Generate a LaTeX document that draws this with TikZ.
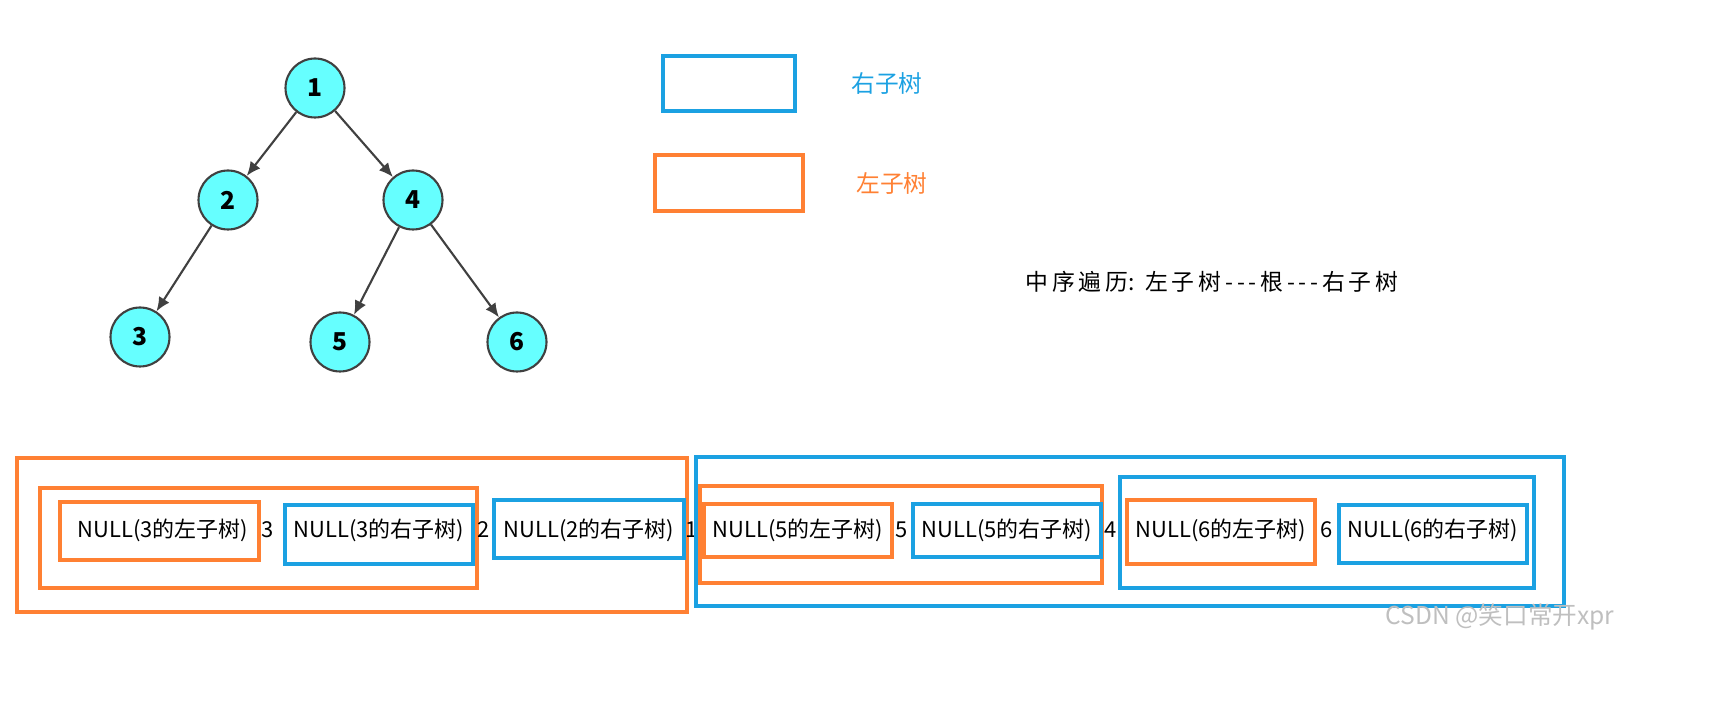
\documentclass[tikz,border=0pt]{standalone}
\usepackage{fontspec}
\setmainfont{Noto Sans CJK SC}
\usetikzlibrary{positioning,arrows.meta}
\definecolor{treefill}{HTML}{66FFFF}
\definecolor{rblue}{HTML}{1BA1E2}
\definecolor{lorange}{HTML}{FF8033}
\begin{document}
\begin{tikzpicture}[x=0.02cm,y=-0.02cm]
    \tikzstyle{tnode}=[circle, draw=black!75, line width=1.2pt, fill=treefill, minimum size=1.18cm, inner sep=0pt, font=\bfseries\fontsize{14}{16}\selectfont]
    \tikzstyle{edge}=[-{Latex[length=8pt,width=7pt]}, draw=black!75, line width=1.2pt]
    \tikzstyle{lbox}=[draw=lorange, line width=2pt]
    \tikzstyle{rbox}=[draw=rblue, line width=2pt]
    \tikzstyle{txt}=[font=\fontsize{12.5}{14}\selectfont, inner sep=0pt]
    \useasboundingbox (0,0) rectangle (1722,705);

    % tree
    \node[tnode] (1) at (315,88) {1};
    \node[tnode] (2) at (228,200) {2};
    \node[tnode] (4) at (413,200) {4};
    \node[tnode] (3) at (140,337) {3};
    \node[tnode] (5) at (340,342) {5};
    \node[tnode] (6) at (517,342) {6};
    \draw[edge] (1) -- (2);
    \draw[edge] (1) -- (4);
    \draw[edge] (2) -- (3);
    \draw[edge] (4) -- (5);
    \draw[edge] (4) -- (6);

    % legend
    \draw[rbox] (663,56) rectangle (795,111);
    \node[txt, text=rblue, font=\fontsize{13.5}{15}\selectfont] (rlab) at (887,84) {右子树};
    \draw[lbox] (655,155) rectangle (803,211);
    \node[txt, text=lorange, font=\fontsize{13.5}{15}\selectfont] (llab) at (892,183) {左子树};
    \node[txt, font=\fontsize{13}{15}\selectfont] (rule) at (1212,282) {中\,序\,遍\,历:\, 左\,子\,树\,-\,-\,-\,根\,-\,-\,-\,右\,子\,树};

    % inorder sequence
    \draw[lbox] (17,458) rectangle (687,612);
    \draw[lbox] (40,488) rectangle (477,588);
    \draw[lbox] (60,502) rectangle (259,560);
    \node[txt] (n3l) at (163,530) {NULL(3的左子树)};
    \node[txt] (v3) at (268,530) {3};
    \draw[rbox] (285,505) rectangle (473,564);
    \node[txt] (n3r) at (379,530) {NULL(3的右子树)};
    \node[txt] (v2) at (484,530) {2};
    \draw[rbox] (494,500) rectangle (684,558);
    \node[txt] (n2r) at (589,530) {NULL(2的右子树)};
    \node[txt] (v1) at (692,530) {1};
    \draw[rbox] (696,457) rectangle (1564,606);
    \draw[lbox] (700,486) rectangle (1102,583);
    \draw[lbox] (704,504) rectangle (892,557);
    \node[txt] (n5l) at (798,530) {NULL(5的左子树)};
    \node[txt] (v5) at (902,530) {5};
    \draw[rbox] (913,504) rectangle (1101,557);
    \node[txt] (n5r) at (1007,530) {NULL(5的右子树)};
    \node[txt] (v4) at (1111,530) {4};
    \draw[rbox] (1120,477) rectangle (1534,588);
    \draw[lbox] (1127,500) rectangle (1315,564);
    \node[txt] (n6l) at (1221,530) {NULL(6的左子树)};
    \node[txt] (v6) at (1327,530) {6};
    \draw[rbox] (1339,505) rectangle (1527,563);
    \node[txt] (n6r) at (1433,530) {NULL(6的右子树)};

    \node[txt, text=black!25, font=\fontsize{14}{16}\selectfont] (mark) at (1500,617) {CSDN @笑口常开xpr};
\end{tikzpicture}
\end{document}
